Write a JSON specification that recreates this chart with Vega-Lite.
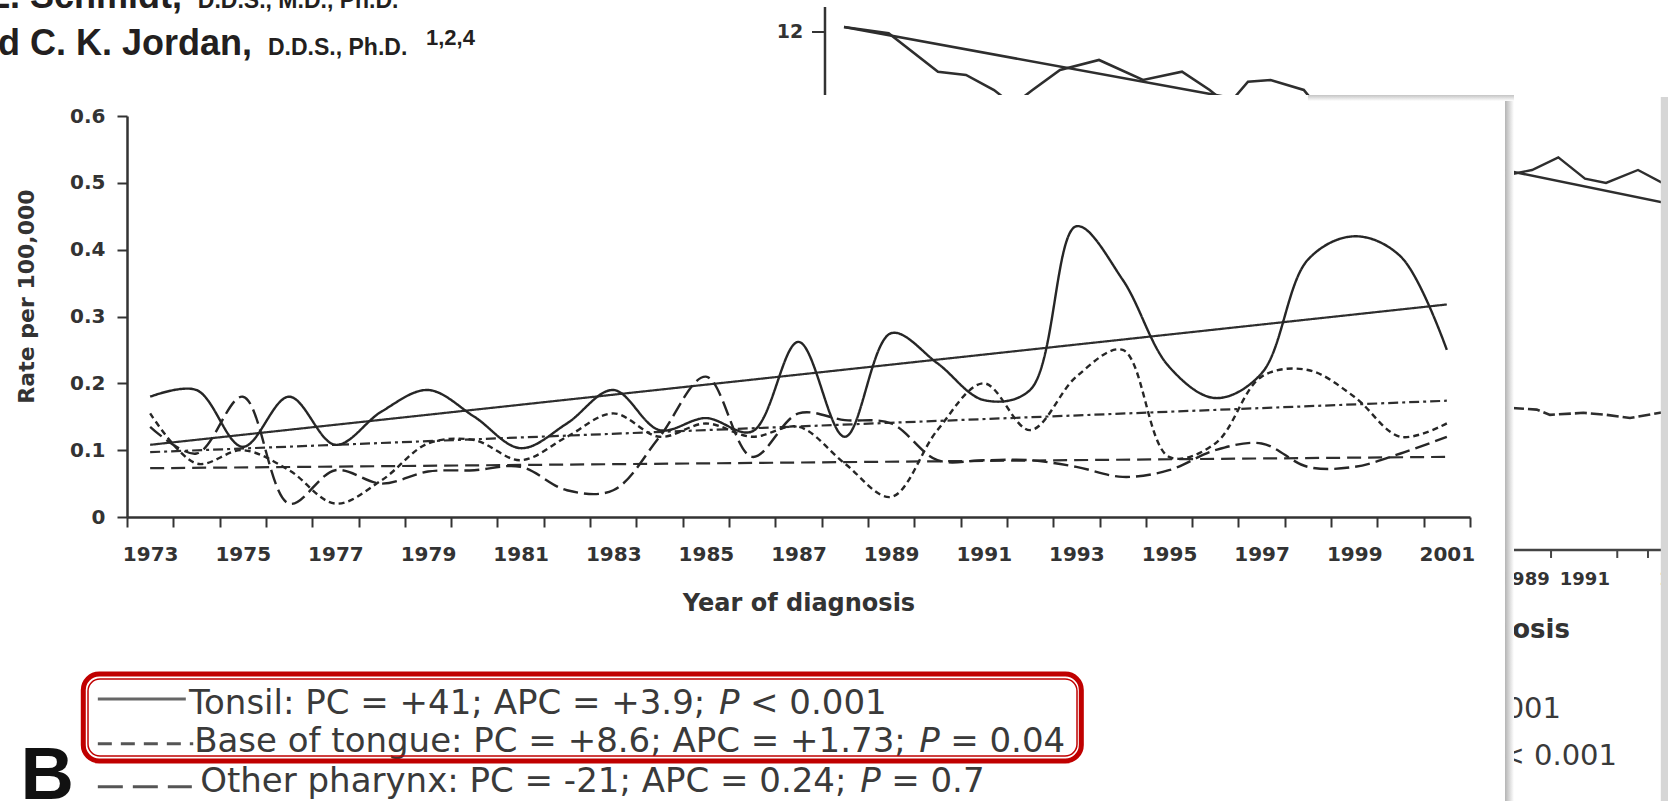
{
  "$schema": "https://vega.github.io/schema/vega-lite/v6.json",
  "width": 1343,
  "height": 401,
  "autosize": "none",
  "padding": {"left": 127, "top": 116, "right": 198, "bottom": 284},
  "background": "white",
  "config": {"view": {"stroke": null}},
  "datasets": {
    "rates": [
      {"year": 1973, "series": "Tonsil", "rate": 0.18}, {"year": 1974, "series": "Tonsil", "rate": 0.19}, {"year": 1975, "series": "Tonsil", "rate": 0.105}, {"year": 1976, "series": "Tonsil", "rate": 0.18}, {"year": 1977, "series": "Tonsil", "rate": 0.108}, {"year": 1978, "series": "Tonsil", "rate": 0.158}, {"year": 1979, "series": "Tonsil", "rate": 0.19}, {"year": 1980, "series": "Tonsil", "rate": 0.15}, {"year": 1981, "series": "Tonsil", "rate": 0.103}, {"year": 1982, "series": "Tonsil", "rate": 0.14}, {"year": 1983, "series": "Tonsil", "rate": 0.19}, {"year": 1984, "series": "Tonsil", "rate": 0.13}, {"year": 1985, "series": "Tonsil", "rate": 0.148}, {"year": 1986, "series": "Tonsil", "rate": 0.128}, {"year": 1987, "series": "Tonsil", "rate": 0.262}, {"year": 1988, "series": "Tonsil", "rate": 0.12}, {"year": 1989, "series": "Tonsil", "rate": 0.275}, {"year": 1990, "series": "Tonsil", "rate": 0.23}, {"year": 1991, "series": "Tonsil", "rate": 0.175}, {"year": 1992, "series": "Tonsil", "rate": 0.19}, {"year": 1993, "series": "Tonsil", "rate": 0.435}, {"year": 1994, "series": "Tonsil", "rate": 0.355}, {"year": 1995, "series": "Tonsil", "rate": 0.225}, {"year": 1996, "series": "Tonsil", "rate": 0.178}, {"year": 1997, "series": "Tonsil", "rate": 0.215}, {"year": 1998, "series": "Tonsil", "rate": 0.385}, {"year": 1999, "series": "Tonsil", "rate": 0.42}, {"year": 2000, "series": "Tonsil", "rate": 0.39}, {"year": 2001, "series": "Tonsil", "rate": 0.25},
      {"year": 1973, "series": "Base of tongue", "rate": 0.155}, {"year": 1974, "series": "Base of tongue", "rate": 0.08}, {"year": 1975, "series": "Base of tongue", "rate": 0.1}, {"year": 1976, "series": "Base of tongue", "rate": 0.07}, {"year": 1977, "series": "Base of tongue", "rate": 0.02}, {"year": 1978, "series": "Base of tongue", "rate": 0.055}, {"year": 1979, "series": "Base of tongue", "rate": 0.11}, {"year": 1980, "series": "Base of tongue", "rate": 0.115}, {"year": 1981, "series": "Base of tongue", "rate": 0.085}, {"year": 1982, "series": "Base of tongue", "rate": 0.12}, {"year": 1983, "series": "Base of tongue", "rate": 0.155}, {"year": 1984, "series": "Base of tongue", "rate": 0.12}, {"year": 1985, "series": "Base of tongue", "rate": 0.14}, {"year": 1986, "series": "Base of tongue", "rate": 0.12}, {"year": 1987, "series": "Base of tongue", "rate": 0.135}, {"year": 1988, "series": "Base of tongue", "rate": 0.08}, {"year": 1989, "series": "Base of tongue", "rate": 0.03}, {"year": 1990, "series": "Base of tongue", "rate": 0.13}, {"year": 1991, "series": "Base of tongue", "rate": 0.2}, {"year": 1992, "series": "Base of tongue", "rate": 0.13}, {"year": 1993, "series": "Base of tongue", "rate": 0.21}, {"year": 1994, "series": "Base of tongue", "rate": 0.25}, {"year": 1995, "series": "Base of tongue", "rate": 0.09}, {"year": 1996, "series": "Base of tongue", "rate": 0.11}, {"year": 1997, "series": "Base of tongue", "rate": 0.21}, {"year": 1998, "series": "Base of tongue", "rate": 0.22}, {"year": 1999, "series": "Base of tongue", "rate": 0.18}, {"year": 2000, "series": "Base of tongue", "rate": 0.12}, {"year": 2001, "series": "Base of tongue", "rate": 0.14},
      {"year": 1973, "series": "Other pharynx", "rate": 0.135}, {"year": 1974, "series": "Other pharynx", "rate": 0.095}, {"year": 1975, "series": "Other pharynx", "rate": 0.18}, {"year": 1976, "series": "Other pharynx", "rate": 0.02}, {"year": 1977, "series": "Other pharynx", "rate": 0.07}, {"year": 1978, "series": "Other pharynx", "rate": 0.05}, {"year": 1979, "series": "Other pharynx", "rate": 0.068}, {"year": 1980, "series": "Other pharynx", "rate": 0.07}, {"year": 1981, "series": "Other pharynx", "rate": 0.075}, {"year": 1982, "series": "Other pharynx", "rate": 0.04}, {"year": 1983, "series": "Other pharynx", "rate": 0.04}, {"year": 1984, "series": "Other pharynx", "rate": 0.12}, {"year": 1985, "series": "Other pharynx", "rate": 0.21}, {"year": 1986, "series": "Other pharynx", "rate": 0.09}, {"year": 1987, "series": "Other pharynx", "rate": 0.155}, {"year": 1988, "series": "Other pharynx", "rate": 0.145}, {"year": 1989, "series": "Other pharynx", "rate": 0.14}, {"year": 1990, "series": "Other pharynx", "rate": 0.085}, {"year": 1991, "series": "Other pharynx", "rate": 0.085}, {"year": 1992, "series": "Other pharynx", "rate": 0.085}, {"year": 1993, "series": "Other pharynx", "rate": 0.075}, {"year": 1994, "series": "Other pharynx", "rate": 0.06}, {"year": 1995, "series": "Other pharynx", "rate": 0.07}, {"year": 1996, "series": "Other pharynx", "rate": 0.1}, {"year": 1997, "series": "Other pharynx", "rate": 0.11}, {"year": 1998, "series": "Other pharynx", "rate": 0.075}, {"year": 1999, "series": "Other pharynx", "rate": 0.075}, {"year": 2000, "series": "Other pharynx", "rate": 0.095}, {"year": 2001, "series": "Other pharynx", "rate": 0.12}
    ],
    "trends": [
      {"year": 1973, "series": "Tonsil trend", "rate": 0.108}, {"year": 2001, "series": "Tonsil trend", "rate": 0.318},
      {"year": 1973, "series": "Base of tongue trend", "rate": 0.097}, {"year": 2001, "series": "Base of tongue trend", "rate": 0.174},
      {"year": 1973, "series": "Other pharynx trend", "rate": 0.073}, {"year": 2001, "series": "Other pharynx trend", "rate": 0.09}
    ],
    "backTop": [
      {"series": "trend", "year": 1987.983, "rate": 0.7332}, {"series": "trend", "year": 1996.75, "rate": 0.622},
      {"series": "wiggle", "year": 1987.983, "rate": 0.7332}, {"series": "wiggle", "year": 1988.946, "rate": 0.7237}, {"series": "wiggle", "year": 1990.012, "rate": 0.6663}, {"series": "wiggle", "year": 1990.617, "rate": 0.6614}, {"series": "wiggle", "year": 1991.222, "rate": 0.6389}, {"series": "wiggle", "year": 1991.632, "rate": 0.6165}, {"series": "wiggle", "year": 1992.053, "rate": 0.6389}, {"series": "wiggle", "year": 1992.647, "rate": 0.6688}, {"series": "wiggle", "year": 1993.489, "rate": 0.6838}, {"series": "wiggle", "year": 1994.439, "rate": 0.6539}, {"series": "wiggle", "year": 1995.281, "rate": 0.6663}, {"series": "wiggle", "year": 1995.879, "rate": 0.6389}, {"series": "wiggle", "year": 1996.275, "rate": 0.6165}, {"series": "wiggle", "year": 1996.706, "rate": 0.6513}, {"series": "wiggle", "year": 1997.194, "rate": 0.6539}, {"series": "wiggle", "year": 1997.911, "rate": 0.6389}, {"series": "wiggle", "year": 1998.261, "rate": 0.609}
    ],
    "backRight": [
      {"series": "wiggle", "year": 2001.716, "rate": 0.519}, {"series": "wiggle", "year": 2002.256, "rate": 0.511}, {"series": "wiggle", "year": 2002.839, "rate": 0.5192}, {"series": "wiggle", "year": 2003.407, "rate": 0.5381}, {"series": "wiggle", "year": 2003.983, "rate": 0.5062}, {"series": "wiggle", "year": 2004.437, "rate": 0.4998}, {"series": "wiggle", "year": 2005.128, "rate": 0.5192}, {"series": "wiggle", "year": 2005.776, "rate": 0.4953},
      {"series": "trend", "year": 2001.716, "rate": 0.5267}, {"series": "trend", "year": 2005.927, "rate": 0.4668}
    ],
    "backRightLow": [
      {"year": 2001.716, "rate": 0.164}, {"year": 2002.185, "rate": 0.164}, {"year": 2002.94, "rate": 0.1607}, {"year": 2003.228, "rate": 0.1528}, {"year": 2003.947, "rate": 0.1559}, {"year": 2004.452, "rate": 0.1528}, {"year": 2004.955, "rate": 0.1481}, {"year": 2005.603, "rate": 0.1559}, {"year": 2005.927, "rate": 0.158}
    ],
    "backRightTicks": [
      {"year": 2003.25}, {"year": 2004.68}, {"year": 2005.343}
    ],
    "backRightLabels": [
      {"label": "1989", "year": 2002.68}, {"label": "1991", "year": 2003.98}, {"label": "1993", "year": 2006.12}
    ]
  },
  "resolve": {"scale": {"strokeDash": "independent"}},
  "layer": [
    {
      "data": {"values": [{"label": "Richard C. K. Jordan,"}]},
      "mark": {"type": "text", "align": "right", "baseline": "alphabetic", "font": "Liberation Sans", "fontWeight": "bold", "fontSize": 36, "color": "#231f20"},
      "encoding": {"x": {"datum": 1975.2}, "y": {"datum": 0.6913}, "text": {"field": "label"}}
    },
    {
      "data": {"values": [{"label": "D.D.S., Ph.D."}]},
      "mark": {"type": "text", "align": "left", "baseline": "alphabetic", "font": "Liberation Sans", "fontWeight": "bold", "fontSize": 23, "color": "#231f20"},
      "encoding": {"x": {"datum": 1975.545}, "y": {"datum": 0.6913}, "text": {"field": "label"}}
    },
    {
      "data": {"values": [{"label": "1,2,4"}]},
      "mark": {"type": "text", "align": "left", "baseline": "alphabetic", "font": "Liberation Sans", "fontWeight": "bold", "fontSize": 22, "color": "#231f20"},
      "encoding": {"x": {"datum": 1978.957}, "y": {"datum": 0.7062}, "text": {"field": "label"}}
    },
    {
      "data": {"values": [{"label": "Brian L. Schmidt,"}]},
      "mark": {"type": "text", "align": "right", "baseline": "alphabetic", "font": "Liberation Sans", "fontWeight": "bold", "fontSize": 36, "color": "#231f20"},
      "encoding": {"x": {"datum": 1973.69}, "y": {"datum": 0.7616}, "text": {"field": "label"}}
    },
    {
      "data": {"values": [{"label": "D.D.S., M.D., Ph.D."}]},
      "mark": {"type": "text", "align": "left", "baseline": "alphabetic", "font": "Liberation Sans", "fontWeight": "bold", "fontSize": 23, "color": "#231f20"},
      "encoding": {"x": {"datum": 1974.03}, "y": {"datum": 0.7616}, "text": {"field": "label"}}
    },
    {
      "data": {"values": [{"key": "back axis"}]},
      "mark": {"type": "rule", "color": "#333", "strokeWidth": 2.5},
      "encoding": {"x": {"datum": 1987.572}, "y": {"datum": 0.7631}, "y2": {"datum": 0.6239}}
    },
    {
      "data": {"values": [{"key": "back tick"}]},
      "mark": {"type": "rule", "color": "#333", "strokeWidth": 2},
      "encoding": {"x": {"datum": 1987.292}, "x2": {"datum": 1987.572}, "y": {"datum": 0.7257}}
    },
    {
      "data": {"values": [{"label": "12"}]},
      "mark": {"type": "text", "align": "center", "baseline": "middle", "font": "DejaVu Sans", "fontWeight": "bold", "fontSize": 19, "color": "#333"},
      "encoding": {"x": {"datum": 1986.816}, "y": {"datum": 0.7257}, "text": {"field": "label"}}
    },
    {
      "data": {"name": "backTop"},
      "mark": {"type": "line", "color": "#2e2e2e", "strokeWidth": 2.6, "interpolate": "linear"},
      "encoding": {"x": {"field": "year", "type": "quantitative"}, "y": {"field": "rate", "type": "quantitative"}, "detail": {"field": "series"}}
    },
    {
      "data": {"name": "backRight"},
      "mark": {"type": "line", "color": "#2e2e2e", "strokeWidth": 2.4, "interpolate": "linear"},
      "encoding": {"x": {"field": "year", "type": "quantitative"}, "y": {"field": "rate", "type": "quantitative"}, "detail": {"field": "series"}}
    },
    {
      "data": {"name": "backRightLow"},
      "mark": {"type": "line", "color": "#2e2e2e", "strokeWidth": 2.6, "strokeDash": [12, 4], "interpolate": "linear"},
      "encoding": {"x": {"field": "year", "type": "quantitative"}, "y": {"field": "rate", "type": "quantitative"}}
    },
    {
      "data": {"values": [{"key": "back x axis"}]},
      "mark": {"type": "rule", "color": "#444", "strokeWidth": 2.5},
      "encoding": {"x": {"datum": 2001.716}, "x2": {"datum": 2006.7}, "y": {"datum": -0.0494}}
    },
    {
      "data": {"name": "backRightTicks"},
      "mark": {"type": "rule", "color": "#444", "strokeWidth": 2},
      "encoding": {"x": {"field": "year", "type": "quantitative"}, "y": {"datum": -0.0494}, "y2": {"datum": -0.0613}}
    },
    {
      "data": {"name": "backRightLabels"},
      "mark": {"type": "text", "align": "center", "baseline": "middle", "font": "DejaVu Sans", "fontWeight": "bold", "fontSize": 18, "color": "#333"},
      "encoding": {"x": {"field": "year", "type": "quantitative"}, "y": {"datum": -0.0943}, "text": {"field": "label"}}
    },
    {
      "data": {"values": [{"label": "Year of diagnosis"}]},
      "mark": {"type": "text", "align": "right", "baseline": "middle", "font": "DejaVu Sans", "fontWeight": "bold", "fontSize": 26, "color": "#333"},
      "encoding": {"x": {"datum": 2003.659}, "y": {"datum": -0.1691}, "text": {"field": "label"}}
    },
    {
      "data": {"values": [{"label": "P < 0.001"}]},
      "mark": {"type": "text", "align": "right", "baseline": "middle", "font": "DejaVu Sans", "fontSize": 29, "color": "#3a3a3a"},
      "encoding": {"x": {"datum": 2003.465}, "y": {"datum": -0.2873}, "text": {"field": "label"}}
    },
    {
      "data": {"values": [{"label": "P < 0.001"}]},
      "mark": {"type": "text", "align": "right", "baseline": "middle", "font": "DejaVu Sans", "fontSize": 29, "color": "#3a3a3a"},
      "encoding": {"x": {"datum": 2004.674}, "y": {"datum": -0.3576}, "text": {"field": "label"}}
    },
    {
      "data": {"values": [{"key": "card"}]},
      "mark": {"type": "rect", "fill": "white", "strokeWidth": 0},
      "encoding": {"x": {"datum": 1960}, "x2": {"datum": 2002.256}, "y": {"datum": 0.6314}, "y2": {"datum": -0.6}}
    },
    {
      "data": {"values": [{"key": "card shadow right"}]},
      "mark": {"type": "rect", "strokeWidth": 0, "fill": {"gradient": "linear", "x1": 0, "x2": 1, "y1": 0, "y2": 0, "stops": [{"offset": 0, "color": "#b4b4b4"}, {"offset": 1, "color": "#ffffff"}]}},
      "encoding": {"x": {"datum": 2002.256}, "x2": {"datum": 2002.45}, "y": {"datum": 0.6314}, "y2": {"datum": -0.6}}
    },
    {
      "data": {"values": [{"key": "card shadow top"}]},
      "mark": {"type": "rect", "strokeWidth": 0, "fill": {"gradient": "linear", "x1": 0, "x2": 0, "y1": 0, "y2": 1, "stops": [{"offset": 0, "color": "#c4c4c4"}, {"offset": 1, "color": "#ffffff"}]}},
      "encoding": {"x": {"datum": 1998.0}, "x2": {"datum": 2002.45}, "y": {"datum": 0.6314}, "y2": {"datum": 0.6224}}
    },
    {
      "data": {"values": [{"key": "page edge"}]},
      "mark": {"type": "rect", "fill": "#d6d6d6", "strokeWidth": 0},
      "encoding": {"x": {"datum": 2005.62}, "x2": {"datum": 2006.9}, "y": {"datum": 0.6284}, "y2": {"datum": -0.6}}
    },
    {
      "data": {"name": "trends"},
      "mark": {"type": "line", "color": "#2e2e2e", "strokeWidth": 2.2, "interpolate": "linear"},
      "encoding": {
        "x": {"field": "year", "type": "quantitative"},
        "y": {"field": "rate", "type": "quantitative"},
        "strokeDash": {"field": "series", "type": "nominal", "legend": null,
          "scale": {"domain": ["Tonsil trend", "Base of tongue trend", "Other pharynx trend"], "range": [[1, 0], [10, 4, 3, 4], [14, 7]]}}
      }
    },
    {
      "data": {"name": "rates"},
      "mark": {"type": "line", "color": "#262626", "strokeWidth": 2.4, "interpolate": "catmull-rom"},
      "encoding": {
        "x": {"field": "year", "type": "quantitative",
          "scale": {"domain": [1972.5, 2001.5], "nice": false, "zero": false},
          "axis": {
            "zindex": 1,
            "values": [1972.5, 1973.5, 1974.5, 1975.5, 1976.5, 1977.5, 1978.5, 1979.5, 1980.5, 1981.5, 1982.5, 1983.5, 1984.5, 1985.5, 1986.5, 1987.5, 1988.5, 1989.5, 1990.5, 1991.5, 1992.5, 1993.5, 1994.5, 1995.5, 1996.5, 1997.5, 1998.5, 1999.5, 2000.5, 2001.5],
            "labelExpr": "((datum.value + 0.5) % 2 == 1) ? format(datum.value + 0.5, 'd') : ''",
            "labelOffset": 23.16,
            "labelOverlap": false, "labelFlush": false, "labelBound": false,
            "grid": false,
            "domainColor": "#333", "domainWidth": 2.5,
            "tickColor": "#333", "tickWidth": 2, "tickSize": 10,
            "labelFont": "DejaVu Sans", "labelFontWeight": "bold", "labelFontSize": 20, "labelColor": "#333", "labelPadding": 17,
            "title": "Year of diagnosis",
            "titleFont": "DejaVu Sans", "titleFontWeight": "bold", "titleFontSize": 24, "titleColor": "#333", "titlePadding": 27
          }},
        "y": {"field": "rate", "type": "quantitative",
          "scale": {"domain": [0, 0.6], "nice": false, "zero": false},
          "axis": {
            "zindex": 1,
            "values": [0, 0.1, 0.2, 0.3, 0.4, 0.5, 0.6],
            "format": "~g",
            "grid": false,
            "domainColor": "#333", "domainWidth": 2.5,
            "tickColor": "#333", "tickWidth": 2, "tickSize": 10,
            "labelFont": "DejaVu Sans", "labelFontWeight": "bold", "labelFontSize": 20, "labelColor": "#333", "labelPadding": 12,
            "title": "Rate per 100,000",
            "titleFont": "DejaVu Sans", "titleFontWeight": "bold", "titleFontSize": 22, "titleColor": "#333", "titlePadding": 31,
            "titleY": 180
          }},
        "strokeDash": {"field": "series", "type": "nominal", "legend": null,
          "scale": {"domain": ["Tonsil", "Base of tongue", "Other pharynx"], "range": [[1, 0], [6, 4], [15, 6]]}}
      }
    },
    {
      "data": {"values": [{"label": "Tonsil: PC = +41; APC = +3.9;"}]},
      "mark": {"type": "text", "align": "left", "baseline": "alphabetic", "font": "DejaVu Sans", "fontSize": 34, "color": "#3a3a3a"},
      "encoding": {"x": {"datum": 1973.84}, "y": {"datum": -0.2948}, "text": {"field": "label"}}
    },
    {
      "data": {"values": [{"label": "P"}]},
      "mark": {"type": "text", "align": "left", "baseline": "alphabetic", "font": "DejaVu Sans", "fontStyle": "italic", "fontSize": 34, "color": "#3a3a3a", "dx": 530},
      "encoding": {"x": {"datum": 1973.84}, "y": {"datum": -0.2948}, "text": {"field": "label"}}
    },
    {
      "data": {"values": [{"label": "< 0.001"}]},
      "mark": {"type": "text", "align": "left", "baseline": "alphabetic", "font": "DejaVu Sans", "fontSize": 34, "color": "#3a3a3a", "dx": 561},
      "encoding": {"x": {"datum": 1973.84}, "y": {"datum": -0.2948}, "text": {"field": "label"}}
    },
    {
      "data": {"values": [{"label": "Base of tongue: PC = +8.6; APC = +1.73;"}]},
      "mark": {"type": "text", "align": "left", "baseline": "alphabetic", "font": "DejaVu Sans", "fontSize": 34, "color": "#3a3a3a"},
      "encoding": {"x": {"datum": 1973.95}, "y": {"datum": -0.3516}, "text": {"field": "label"}}
    },
    {
      "data": {"values": [{"label": "P"}]},
      "mark": {"type": "text", "align": "left", "baseline": "alphabetic", "font": "DejaVu Sans", "fontStyle": "italic", "fontSize": 34, "color": "#3a3a3a", "dx": 725},
      "encoding": {"x": {"datum": 1973.95}, "y": {"datum": -0.3516}, "text": {"field": "label"}}
    },
    {
      "data": {"values": [{"label": "= 0.04"}]},
      "mark": {"type": "text", "align": "left", "baseline": "alphabetic", "font": "DejaVu Sans", "fontSize": 34, "color": "#3a3a3a", "dx": 756},
      "encoding": {"x": {"datum": 1973.95}, "y": {"datum": -0.3516}, "text": {"field": "label"}}
    },
    {
      "data": {"values": [{"label": "Other pharynx: PC = -21; APC = 0.24;"}]},
      "mark": {"type": "text", "align": "left", "baseline": "alphabetic", "font": "DejaVu Sans", "fontSize": 34, "color": "#3a3a3a"},
      "encoding": {"x": {"datum": 1974.08}, "y": {"datum": -0.4115}, "text": {"field": "label"}}
    },
    {
      "data": {"values": [{"label": "P"}]},
      "mark": {"type": "text", "align": "left", "baseline": "alphabetic", "font": "DejaVu Sans", "fontStyle": "italic", "fontSize": 34, "color": "#3a3a3a", "dx": 660},
      "encoding": {"x": {"datum": 1974.08}, "y": {"datum": -0.4115}, "text": {"field": "label"}}
    },
    {
      "data": {"values": [{"label": "= 0.7"}]},
      "mark": {"type": "text", "align": "left", "baseline": "alphabetic", "font": "DejaVu Sans", "fontSize": 34, "color": "#3a3a3a", "dx": 691},
      "encoding": {"x": {"datum": 1974.08}, "y": {"datum": -0.4115}, "text": {"field": "label"}}
    },
    {
      "data": {"values": [{"label": "B"}]},
      "mark": {"type": "text", "align": "left", "baseline": "alphabetic", "font": "Liberation Sans", "fontWeight": "bold", "fontSize": 74, "color": "#111"},
      "encoding": {"x": {"datum": 1970.2}, "y": {"datum": -0.4219}, "text": {"field": "label"}}
    },
    {
      "data": {"values": [{"key": "Tonsil"}]},
      "mark": {"type": "rule", "color": "#666", "strokeWidth": 3},
      "encoding": {"x": {"datum": 1971.87}, "x2": {"datum": 1973.77}, "y": {"datum": -0.2723}}
    },
    {
      "data": {"values": [{"key": "Base of tongue"}]},
      "mark": {"type": "rule", "color": "#555", "strokeWidth": 3, "strokeDash": [14, 9]},
      "encoding": {"x": {"datum": 1971.87}, "x2": {"datum": 1973.93}, "y": {"datum": -0.3392}}
    },
    {
      "data": {"values": [{"key": "Other pharynx"}]},
      "mark": {"type": "rule", "color": "#555", "strokeWidth": 3, "strokeDash": [25, 10]},
      "encoding": {"x": {"datum": 1971.87}, "x2": {"datum": 1973.9}, "y": {"datum": -0.4035}}
    },
    {
      "data": {"values": [{"key": "highlight"}]},
      "mark": {"type": "rect", "cornerRadius": 16, "fill": "white", "fillOpacity": 0, "stroke": "#c00000", "strokeWidth": 5},
      "encoding": {"x": {"datum": 1971.556}, "x2": {"datum": 1993.107}, "y": {"datum": -0.2349}, "y2": {"datum": -0.3651}}
    },
    {
      "data": {"values": [{"key": "highlight inner"}]},
      "mark": {"type": "rect", "cornerRadius": 12, "fill": "white", "fillOpacity": 0, "stroke": "#c00000", "strokeWidth": 1.5},
      "encoding": {"x": {"datum": 1971.658}, "x2": {"datum": 1993.014}, "y": {"datum": -0.2424}, "y2": {"datum": -0.3576}}
    }
  ]
}
